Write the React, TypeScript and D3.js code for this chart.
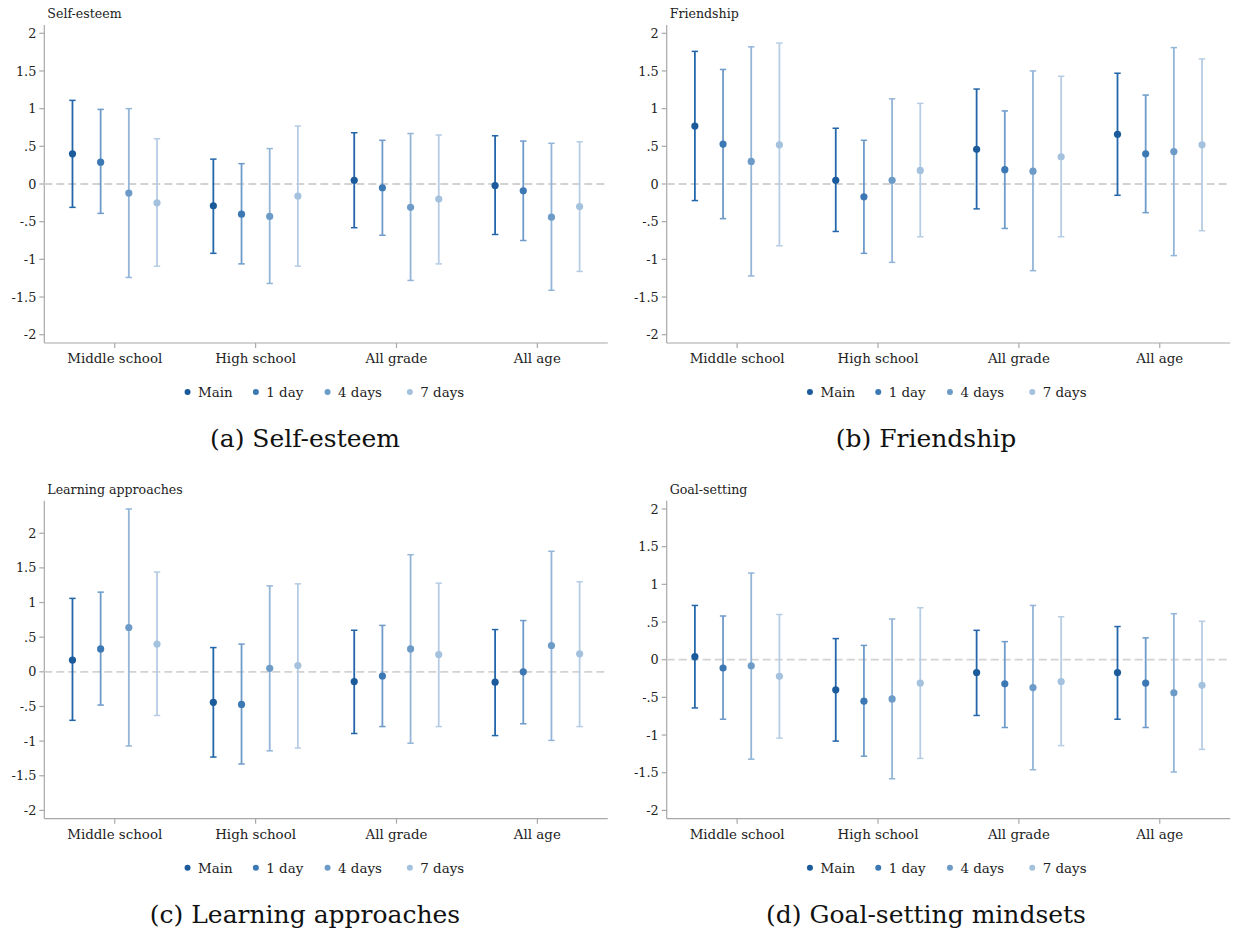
import React from "react";
import * as d3 from "d3";

const CATEGORIES = ["Middle school", "High school", "All grade", "All age"];
const SERIES = ["Main", "1 day", "4 days", "7 days"];
const POINT_COLORS = ["#1b5b9c", "#3c78b3", "#6d9bc8", "#a4c1de"];
const BAR_COLORS = ["#2366a9", "#6e9bca", "#93b5d8", "#b6cde5"];
const Y_TICKS = [-2, -1.5, -1, -0.5, 0, 0.5, 1, 1.5, 2];
const PANEL_TITLES = ["Self-esteem", "Friendship", "Learning approaches", "Goal-setting"];
const CAPTIONS = ["(a) Self-esteem", "(b) Friendship", "(c) Learning approaches", "(d) Goal-setting mindsets"];

const selfEsteemEst = [
  [0.40, 0.29, -0.12, -0.25],
  [-0.29, -0.40, -0.43, -0.16],
  [0.05, -0.05, -0.31, -0.20],
  [-0.02, -0.09, -0.44, -0.30],
];
const selfEsteemLo = [
  [-0.31, -0.39, -1.24, -1.09],
  [-0.92, -1.06, -1.32, -1.09],
  [-0.58, -0.68, -1.28, -1.06],
  [-0.67, -0.75, -1.41, -1.16],
];
const selfEsteemHi = [
  [1.11, 0.99, 1.00, 0.60],
  [0.33, 0.27, 0.47, 0.77],
  [0.68, 0.58, 0.67, 0.65],
  [0.64, 0.57, 0.54, 0.56],
];

const friendshipEst = [
  [0.77, 0.53, 0.30, 0.52],
  [0.05, -0.17, 0.05, 0.18],
  [0.46, 0.19, 0.17, 0.36],
  [0.66, 0.40, 0.43, 0.52],
];
const friendshipLo = [
  [-0.22, -0.46, -1.22, -0.82],
  [-0.63, -0.92, -1.04, -0.70],
  [-0.33, -0.59, -1.15, -0.70],
  [-0.15, -0.38, -0.95, -0.62],
];
const friendshipHi = [
  [1.76, 1.52, 1.82, 1.87],
  [0.74, 0.58, 1.13, 1.07],
  [1.26, 0.97, 1.50, 1.43],
  [1.47, 1.18, 1.81, 1.66],
];

const learningEst = [
  [0.17, 0.33, 0.64, 0.40],
  [-0.44, -0.47, 0.05, 0.09],
  [-0.14, -0.06, 0.33, 0.25],
  [-0.15, 0.00, 0.38, 0.26],
];
const learningLo = [
  [-0.70, -0.48, -1.07, -0.63],
  [-1.23, -1.33, -1.14, -1.10],
  [-0.89, -0.79, -1.03, -0.79],
  [-0.92, -0.75, -0.99, -0.79],
];
const learningHi = [
  [1.06, 1.15, 2.35, 1.44],
  [0.35, 0.40, 1.24, 1.27],
  [0.60, 0.67, 1.69, 1.28],
  [0.61, 0.74, 1.74, 1.30],
];

const goalEst = [
  [0.04, -0.11, -0.08, -0.22],
  [-0.40, -0.55, -0.52, -0.31],
  [-0.17, -0.32, -0.37, -0.29],
  [-0.17, -0.31, -0.44, -0.34],
];
const goalLo = [
  [-0.64, -0.79, -1.32, -1.04],
  [-1.08, -1.28, -1.58, -1.31],
  [-0.74, -0.90, -1.46, -1.14],
  [-0.79, -0.90, -1.49, -1.19],
];
const goalHi = [
  [0.72, 0.58, 1.15, 0.60],
  [0.28, 0.19, 0.54, 0.69],
  [0.39, 0.24, 0.72, 0.57],
  [0.44, 0.29, 0.61, 0.51],
];

const PANELS = [
  { est: selfEsteemEst, lo: selfEsteemLo, hi: selfEsteemHi },
  { est: friendshipEst, lo: friendshipLo, hi: friendshipHi },
  { est: learningEst, lo: learningLo, hi: learningHi },
  { est: goalEst, lo: goalLo, hi: goalHi },
];

const FONT = "DejaVu Serif";
const AXIS_COLOR = "#a8a8a8";
const TEXT_COLOR = "#222";

const LEFTS = [44.3, 666.7];
const TOPS = [25, 500.7];
const PLOT_W = 563.5;
const PLOT_H = 318;
const CAPTION_X = [305, 926];
const CAPTION_Y = [447, 923];
const LEGEND_OFFSETS = [-138.5, -70.2, 1.5, 83.8];

function fmtTick(v: number): string {
  if (v === 0) return "0";
  let s = String(v);
  s = s.replace(/^0\./, ".").replace(/^-0\./, "-.");
  return s;
}

function Panel({ idx }: { idx: number }) {
  const col = idx % 2;
  const row = Math.floor(idx / 2);
  const left = LEFTS[col];
  const top = TOPS[row];
  const right = left + PLOT_W;
  const bottom = top + PLOT_H;
  const p = PANELS[idx];

  const allLo = d3.min(p.lo.flat()) as number;
  const allHi = d3.max(p.hi.flat()) as number;
  const lo = Math.min(-2, allLo);
  const hi = Math.max(2, allHi);
  const pad = (hi - lo) * 0.0275;
  const y = d3.scaleLinear().domain([lo - pad, hi + pad]).range([bottom, top]);
  const x = d3.scaleLinear().domain([0.5, CATEGORIES.length + 0.5]).range([left, right]);
  const px = (c: number, s: number) => x(c + 1 + (s - (SERIES.length - 1) / 2) * 0.2);
  const cx = (left + right) / 2;
  const tstyle = { fontFamily: FONT };

  return (
    <g>
      <text x={left + 3} y={top - 7} style={tstyle} fontSize={12.6} fill={TEXT_COLOR}>
        {PANEL_TITLES[idx]}
      </text>
      <line x1={left} x2={left} y1={top} y2={bottom} stroke={AXIS_COLOR} strokeWidth={1.2} />
      <line x1={left} x2={right} y1={bottom} y2={bottom} stroke={AXIS_COLOR} strokeWidth={1.2} />
      {Y_TICKS.map((t) => (
        <g key={t}>
          <line x1={left - 5} x2={left} y1={y(t)} y2={y(t)} stroke={AXIS_COLOR} strokeWidth={1.2} />
          <text x={left - 8} y={y(t)} dy="0.36em" textAnchor="end" style={tstyle} fontSize={12.8} fill={TEXT_COLOR}>
            {fmtTick(t)}
          </text>
        </g>
      ))}
      {CATEGORIES.map((c, i) => (
        <g key={c}>
          <line x1={x(i + 1)} x2={x(i + 1)} y1={bottom} y2={bottom + 5} stroke={AXIS_COLOR} strokeWidth={1.2} />
          <text x={x(i + 1)} y={bottom + 20} textAnchor="middle" style={tstyle} fontSize={13.4} fill={TEXT_COLOR}>
            {c}
          </text>
        </g>
      ))}
      <line x1={left} x2={right} y1={y(0)} y2={y(0)} stroke="#d2d2d2" strokeWidth={1.8} strokeDasharray="8,4" />
      {CATEGORIES.map((c, ci) =>
        SERIES.map((s, si) => {
          const xx = px(ci, si);
          return (
            <g key={c + s}>
              <line x1={xx} x2={xx} y1={y(p.lo[ci][si])} y2={y(p.hi[ci][si])} stroke={BAR_COLORS[si]} strokeWidth={1.8} />
              <line x1={xx - 3.2} x2={xx + 3.2} y1={y(p.lo[ci][si])} y2={y(p.lo[ci][si])} stroke={BAR_COLORS[si]} strokeWidth={1.5} />
              <line x1={xx - 3.2} x2={xx + 3.2} y1={y(p.hi[ci][si])} y2={y(p.hi[ci][si])} stroke={BAR_COLORS[si]} strokeWidth={1.5} />
              <circle cx={xx} cy={y(p.est[ci][si])} r={3.6} fill={POINT_COLORS[si]} />
            </g>
          );
        })
      )}
      {SERIES.map((s, si) => {
        const lx = cx + LEGEND_OFFSETS[si];
        const ly = bottom + 49;
        return (
          <g key={s}>
            <circle cx={lx} cy={ly} r={3} fill={POINT_COLORS[si]} />
            <text x={lx + 10.5} y={ly} dy="0.36em" style={tstyle} fontSize={13.4} fill={TEXT_COLOR}>
              {s}
            </text>
          </g>
        );
      })}
      <text x={CAPTION_X[col]} y={CAPTION_Y[row]} textAnchor="middle" style={tstyle} fontSize={25} fill="#111">
        {CAPTIONS[idx]}
      </text>
    </g>
  );
}

export default function App() {
  return (
    <svg width={1235} height={936} style={{ position: "absolute", left: 0, top: 0, background: "#fff" }}>
      <rect x={0} y={0} width={1235} height={936} fill="#fff" />
      {PANELS.map((_, i) => (
        <Panel key={i} idx={i} />
      ))}
    </svg>
  );
}
